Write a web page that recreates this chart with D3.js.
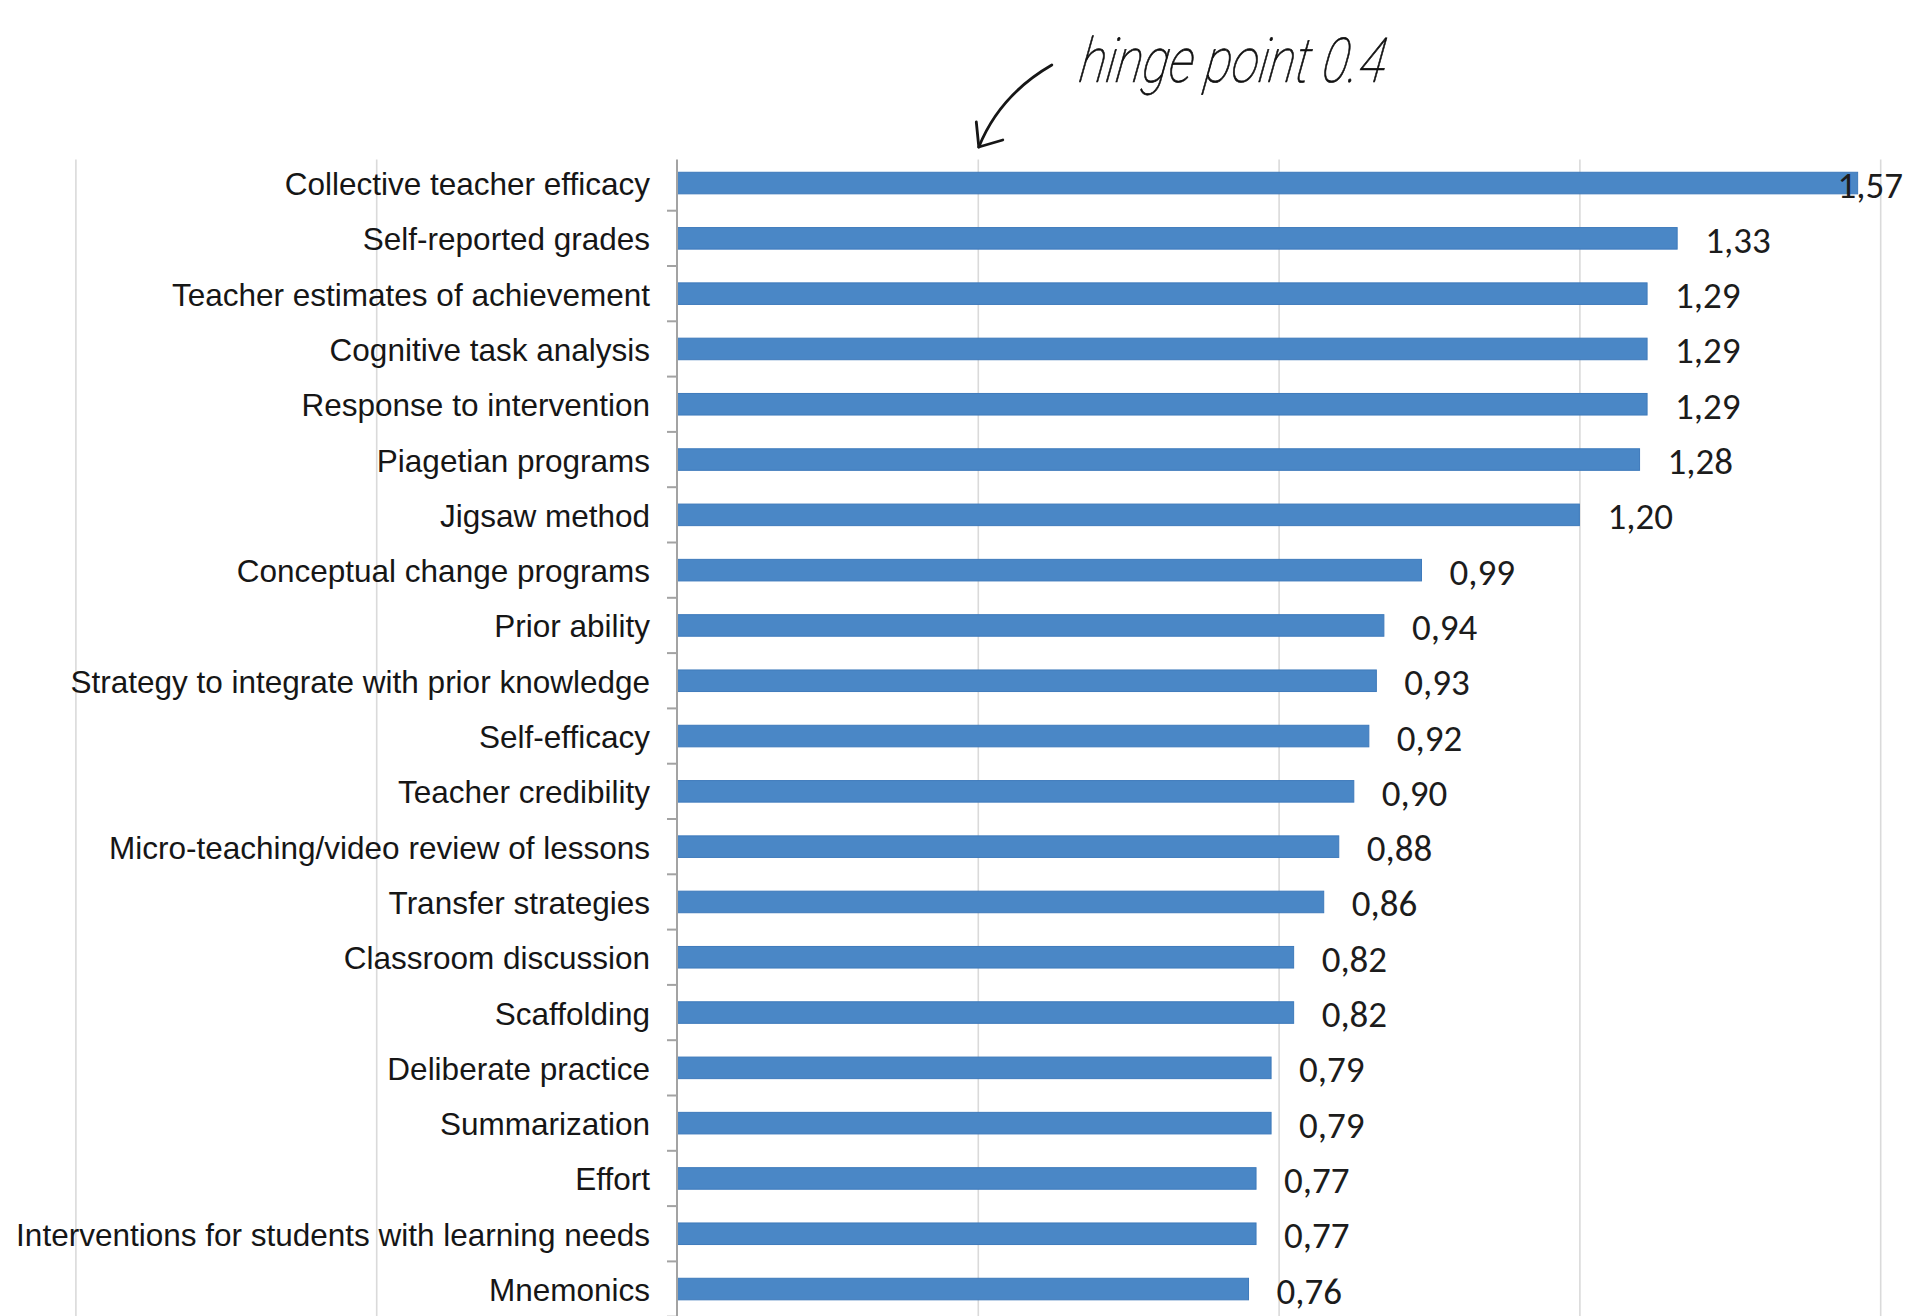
<!DOCTYPE html>
<html>
<head>
<meta charset="utf-8">
<script src="https://cdn.jsdelivr.net/npm/d3@7"></script>
<style>
  html, body { margin: 0; padding: 0; background: #fff; }
  svg { display: block; }
</style>
</head>
<body>
<svg id="chart" width="1909" height="1316"></svg>
<script>
// Effect sizes of influences on student achievement (top 21)
const categories = [
  "Collective teacher efficacy",
  "Self-reported grades",
  "Teacher estimates of achievement",
  "Cognitive task analysis",
  "Response to intervention",
  "Piagetian programs",
  "Jigsaw method",
  "Conceptual change programs",
  "Prior ability",
  "Strategy to integrate with prior knowledge",
  "Self-efficacy",
  "Teacher credibility",
  "Micro-teaching/video review of lessons",
  "Transfer strategies",
  "Classroom discussion",
  "Scaffolding",
  "Deliberate practice",
  "Summarization",
  "Effort",
  "Interventions for students with learning needs",
  "Mnemonics"
];
const values = [1.57, 1.33, 1.29, 1.29, 1.29, 1.28, 1.20, 0.99, 0.94, 0.93, 0.92,
                0.90, 0.88, 0.86, 0.82, 0.82, 0.79, 0.79, 0.77, 0.77, 0.76];
const xDomain = [-0.8, 1.6];
const gridTicks = [-0.8, -0.4, 0.4, 0.8, 1.2, 1.6];
const hingePoint = 0.4;
const hingeLabel = "hinge point 0.4";

const data = categories.map((c, i) => ({ name: c, value: values[i] }));

const W = 1909, H = 1316;
const plotTop = 155.4, plotBottom = 1316.7;
const labelRightLimit = 1903;

const svg = d3.select("#chart");
svg.append("rect").attr("width", W).attr("height", H).attr("fill", "#fff");

const x = d3.scaleLinear().domain(xDomain).range([75.4, 1880.2]);
const y = d3.scaleBand()
  .domain(categories)
  .range([plotTop, plotBottom])
  .paddingInner(0.61)
  .paddingOuter(0.305);

const decimalComma = d3.formatLocale({ decimal: ",", thousands: ".", grouping: [3], currency: ["", ""] });
const fmt = decimalComma.format(".2f");

// vertical gridlines
svg.append("g")
  .attr("transform", `translate(0,${plotTop + 4})`)
  .call(d3.axisBottom(x).tickValues(gridTicks).tickSize(plotBottom - plotTop).tickFormat(""))
  .call(g => g.select(".domain").remove())
  .call(g => g.selectAll(".tick line").attr("stroke", "#dadada").attr("stroke-width", 1.6));

// category labels
svg.append("g")
  .attr("transform", `translate(${x(0)},0)`)
  .call(d3.axisLeft(y).tickSize(0).tickPadding(27))
  .call(g => g.select(".domain").remove())
  .call(g => g.selectAll(".tick text")
    .attr("font-family", "'Liberation Sans', Arial, sans-serif")
    .attr("font-size", 31.5)
    .attr("fill", "#161616")
    .attr("dy", null)
    .attr("dominant-baseline", "central")
    .attr("y", 1));

// bars
svg.append("g")
  .selectAll("rect")
  .data(data)
  .join("rect")
  .attr("x", x(0))
  .attr("y", d => y(d.name))
  .attr("width", d => x(d.value) - x(0))
  .attr("height", y.bandwidth())
  .attr("fill", "#4a87c6")
  .attr("stroke", "#3e7abb")
  .attr("stroke-width", 1);

// category axis line and boundary ticks
const axisG = svg.append("g").attr("stroke", "#a3a3a3").attr("stroke-width", 2);
axisG.append("line")
  .attr("x1", x(0)).attr("x2", x(0))
  .attr("y1", plotTop + 4).attr("y2", plotBottom);
axisG.selectAll("line.tick")
  .data(categories)
  .join("line")
  .attr("class", "tick")
  .attr("x1", x(0) - 10).attr("x2", x(0))
  .attr("y1", d => y(d) + y.bandwidth() / 2 + y.step() / 2)
  .attr("y2", d => y(d) + y.bandwidth() / 2 + y.step() / 2);

// value labels, kept inside the right edge
const valueLabels = svg.append("g")
  .selectAll("text")
  .data(data)
  .join("text")
  .attr("x", d => x(d.value) + 28)
  .attr("y", d => y(d.name) + y.bandwidth() / 2 + 2)
  .attr("dominant-baseline", "central")
  .attr("font-family", "Carlito, Calibri, Lato, sans-serif")
  .attr("font-size", 37)
  .attr("fill", "#1c1c1c")
  .text(d => fmt(d.value));
valueLabels.each(function () {
  const bb = this.getBBox();
  if (bb.x + bb.width > labelRightLimit) {
    d3.select(this).attr("x", labelRightLimit - bb.width);
  }
});

// hand-drawn hinge point note
const hx = x(hingePoint) + 1, hy = 147;
const note = svg.append("g")
  .attr("fill", "none")
  .attr("stroke", "#161616")
  .attr("stroke-width", 2.8)
  .attr("stroke-linecap", "round")
  .attr("stroke-linejoin", "round");
note.append("path")
  .attr("d", `M${hx + 73},${hy - 82} Q${hx + 21},${hy - 52} ${hx},${hy}`);
note.append("path")
  .attr("d", `M${hx - 2.5},${hy - 25} L${hx},${hy} L${hx + 24},${hy - 7}`);

const noteX = hx + 99, noteY = 82;
svg.append("text")
  .attr("transform", `translate(${noteX},${noteY}) skewX(-8)`)
  .attr("font-family", "Roboto, 'Open Sans', sans-serif")
  .attr("font-style", "italic")
  .attr("font-weight", 100)
  .attr("font-size", 62)
  .attr("fill", "#111")
  .attr("stroke", "#111")
  .attr("stroke-width", 0.7)
  .attr("textLength", 306)
  .attr("lengthAdjust", "spacingAndGlyphs")
  .text(hingeLabel);
</script>
</body>
</html>
